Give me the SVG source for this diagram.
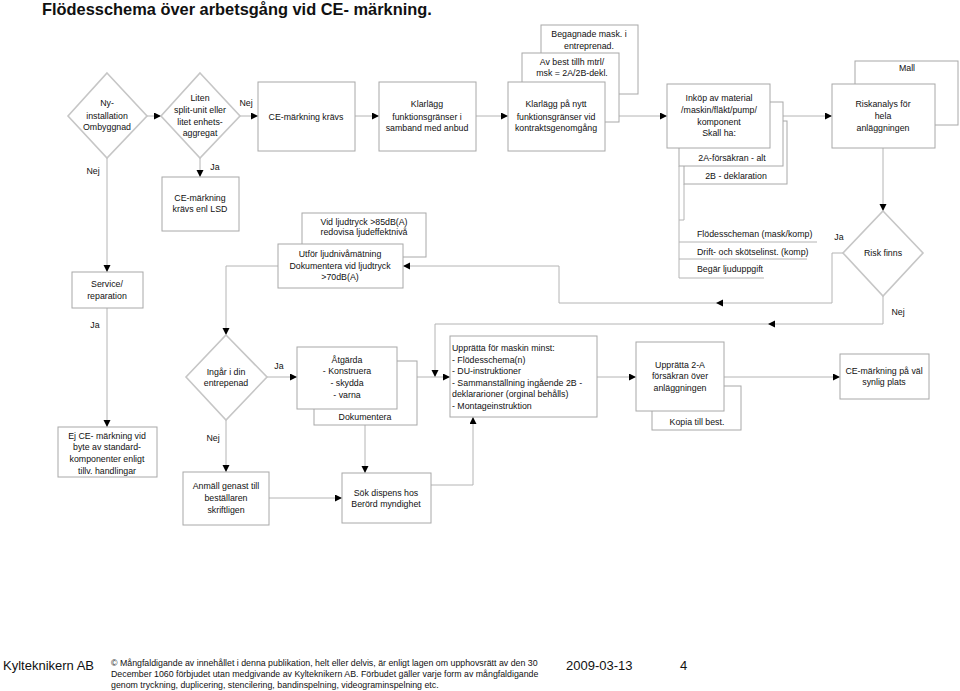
<svg xmlns="http://www.w3.org/2000/svg" width="960" height="691" viewBox="0 0 960 691">
<defs>
<marker id="ah" markerUnits="userSpaceOnUse" markerWidth="8" markerHeight="8" refX="7" refY="3.5" orient="auto">
<path d="M0,0 L7,3.5 L0,7 z" fill="#000"/>
</marker>
<style>
text{font-family:"Liberation Sans",Arial,sans-serif;font-size:8.8px;fill:#111;}
.c{text-anchor:middle;}
.b{fill:#fff;stroke:#a8a8a8;stroke-width:1;}
.d{fill:#fff;stroke:#c6c6c6;stroke-width:1.6;}
.ln{fill:none;stroke:#b4b4b4;stroke-width:1;}
.cn path{fill:none;stroke:#b4b4b4;stroke-width:1;}
.ar{marker-end:url(#ah);}
.t{font-size:16.4px;font-weight:bold;}
.f{font-size:8.8px;}
.big{font-size:13px;}
</style>
</defs>
<rect width="960" height="691" fill="#fff"/>
<text class="t" x="42" y="15">Flödesschema över arbetsgång vid CE- märkning.</text>

<g class="cn" id="connectors">
<path class="ar" d="M147,116 H161"/>
<path class="ar" d="M240,116 H258"/>
<path class="ar" d="M355,116 H379"/>
<path class="ar" d="M476,116 H508"/>
<path class="ar" d="M619,116 H667"/>
<path class="ar" d="M783,116 H832"/>
<path class="ar" d="M883,148 V211"/>
<path class="ar" d="M843,253 H832 V303 H716"/>
<path class="ar" d="M716,303 H559 V266 H403"/>
<path class="ar" d="M883,296 V324 H768"/>
<path class="ar" d="M768,324 H435 V377"/>
<path class="ar" d="M417,377 H450"/>
<path class="ar" d="M597,377 H636"/>
<path class="ar" d="M724,377 H840"/>
<path class="ar" d="M278,266 H226 V335"/>
<path class="ar" d="M267,377 H297"/>
<path class="ar" d="M226,420 V472"/>
<path class="ar" d="M269,498 H342"/>
<path class="ar" d="M365,425 V473"/>
<path class="ar" d="M431,485 H473 V417"/>
<path class="ar" d="M107,158 V272"/>
<path class="ar" d="M107,308 V427"/>
<path class="ar" d="M200,158 V177"/>
</g>

<g id="labels">
<text class="c" x="246" y="106">Nej</text>
<text class="c" x="93" y="174">Nej</text>
<text class="c" x="215" y="170">Ja</text>
<text class="c" x="95" y="328">Ja</text>
<text class="c" x="279" y="369">Ja</text>
<text class="c" x="213" y="441">Nej</text>
<text class="c" x="839" y="240">Ja</text>
<text class="c" x="898" y="315">Nej</text>
</g>

<g id="ny-installation">
<polygon class="d" points="107,73 147,116 107,158 68,116"/>
<text class="c" x="107" y="106">Ny-</text>
<text class="c" x="107" y="119">installation</text>
<text class="c" x="107" y="130">Ombyggnad</text>
</g>

<g id="liten">
<polygon class="d" points="200,73 240,116 200,158 161,116"/>
<text class="c" x="200" y="101">Liten</text>
<text class="c" x="200" y="113">split-unit eller</text>
<text class="c" x="200" y="125">litet enhets-</text>
<text class="c" x="200" y="136">aggregat</text>
</g>

<g id="ce-kravs">
<rect class="b" x="258" y="82" width="97" height="69"/>
<text class="c" x="306" y="120">CE-märkning krävs</text>
</g>

<g id="klarlagg">
<rect class="b" x="379" y="82" width="97" height="69"/>
<text class="c" x="427" y="107">Klarlägg</text>
<text class="c" x="427" y="120">funktionsgränser i</text>
<text class="c" x="427" y="131">samband med anbud</text>
</g>

<g id="klarlagg-nytt">
<rect class="b" x="541" y="25" width="97" height="69"/>
<text class="c" x="589" y="37">Begagnade mask. i</text>
<text class="c" x="589" y="49">entreprenad.</text>
<rect class="b" x="522" y="53" width="97" height="69"/>
<text class="c" x="572" y="65">Av best tillh mtrl/</text>
<text class="c" x="572" y="76">msk = 2A/2B-dekl.</text>
<rect class="b" x="508" y="82" width="97" height="69"/>
<text class="c" x="556" y="107">Klarlägg på nytt</text>
<text class="c" x="556" y="120">funktionsgränser vid</text>
<text class="c" x="556" y="131">kontraktsgenomgång</text>
</g>

<g id="inkop">
<path class="ln" d="M684,184 V220 H679"/>
<path class="ln" d="M679,166 V278 H764 M679,242 H817 M679,259 H807"/>
<text x="697" y="237">Flödesscheman (mask/komp)</text>
<text x="697" y="255">Drift- och skötselinst. (komp)</text>
<text x="697" y="272">Begär ljuduppgift</text>
<rect class="b" x="684" y="121" width="103" height="63"/>
<text class="c" x="736" y="179">2B - deklaration</text>
<rect class="b" x="679" y="102" width="104" height="64"/>
<text class="c" x="732" y="161">2A-försäkran - alt</text>
<rect class="b" x="667" y="84" width="103" height="64"/>
<text class="c" x="719" y="101">Inköp av material</text>
<text class="c" x="719" y="113">/maskin/fläkt/pump/</text>
<text class="c" x="719" y="125">komponent</text>
<text class="c" x="719" y="136">Skall ha:</text>
</g>

<g id="riskanalys">
<rect class="b" x="855" y="61" width="103" height="64"/>
<text class="c" x="907" y="71">Mall</text>
<rect class="b" x="832" y="84" width="103" height="64"/>
<text class="c" x="883" y="107">Riskanalys för</text>
<text class="c" x="883" y="119">hela</text>
<text class="c" x="883" y="131">anläggningen</text>
</g>

<g id="risk-finns">
<polygon class="d" points="883,211 923,253 883,296 843,253"/>
<text class="c" x="883" y="256">Risk finns</text>
</g>

<g id="ce-lsd">
<rect class="b" x="162" y="177" width="77" height="54"/>
<text class="c" x="200" y="201">CE-märkning</text>
<text class="c" x="200" y="212">krävs enl LSD</text>
</g>

<g id="utfor">
<rect class="b" x="302" y="213" width="124" height="44"/>
<text class="c" x="364" y="225">Vid ljudtryck &gt;85dB(A)</text>
<text class="c" x="364" y="235">redovisa ljudeffektnivå</text>
<rect class="b" x="278" y="244" width="125" height="44"/>
<text class="c" x="340" y="257">Utför ljudnivåmätning</text>
<text class="c" x="340" y="269">Dokumentera vid ljudtryck</text>
<text class="c" x="340" y="280">&gt;70dB(A)</text>
</g>

<g id="service">
<rect class="b" x="72" y="272" width="71" height="36"/>
<text class="c" x="107" y="287">Service/</text>
<text class="c" x="107" y="299">reparation</text>
</g>

<g id="ingar">
<polygon class="d" points="226,335 267,377 226,420 186,377"/>
<text class="c" x="226" y="375">Ingår i din</text>
<text class="c" x="226" y="386">entrepenad</text>
</g>

<g id="ej-ce">
<rect class="b" x="58" y="427" width="99" height="50"/>
<text class="c" x="107" y="439">Ej CE- märkning vid</text>
<text class="c" x="107" y="450">byte av standard-</text>
<text class="c" x="107" y="462">komponenter enligt</text>
<text class="c" x="107" y="474">tillv. handlingar</text>
</g>

<g id="atgarda">
<rect class="b" x="314" y="361" width="103" height="64"/>
<text class="c" x="365" y="420">Dokumentera</text>
<rect class="b" x="297" y="347" width="100" height="62"/>
<text class="c" x="347" y="363">Åtgärda</text>
<text class="c" x="347" y="374">- Konstruera</text>
<text class="c" x="347" y="386">- skydda</text>
<text class="c" x="347" y="398">- varna</text>
</g>

<g id="anmall">
<rect class="b" x="183" y="472" width="86" height="53"/>
<text class="c" x="226" y="489">Anmäll genast till</text>
<text class="c" x="226" y="501">beställaren</text>
<text class="c" x="226" y="513">skriftligen</text>
</g>

<g id="sok-dispens">
<rect class="b" x="342" y="473" width="89" height="50"/>
<text class="c" x="386" y="496">Sök dispens hos</text>
<text class="c" x="386" y="507">Berörd myndighet</text>
</g>

<g id="uppratta-maskin">
<rect class="b" x="450" y="336" width="147" height="81"/>
<text x="452" y="351">Upprätta för maskin minst:</text>
<text x="452" y="363">- Flödesschema(n)</text>
<text x="452" y="374">- DU-instruktioner</text>
<text x="452" y="386">- Sammanställning ingående 2B -</text>
<text x="452" y="397">deklararioner (orginal behålls)</text>
<text x="452" y="409">- Montageinstruktion</text>
</g>

<g id="uppratta-2a">
<rect class="b" x="652" y="386" width="89" height="44"/>
<text class="c" x="697" y="425">Kopia till best.</text>
<rect class="b" x="636" y="342" width="88" height="69"/>
<text class="c" x="680" y="368">Upprätta 2-A</text>
<text class="c" x="680" y="379">försäkran över</text>
<text class="c" x="680" y="391">anläggningen</text>
</g>

<g id="ce-synlig">
<rect class="b" x="840" y="354" width="89" height="45"/>
<text class="c" x="884" y="374">CE-märkning på väl</text>
<text class="c" x="884" y="385">synlig plats</text>
</g>

<g id="footer">
<text x="3" y="670" class="big">Kylteknikern AB</text>
<text x="111" y="666" class="f">© Mångfaldigande av innehållet i denna publikation, helt eller delvis, är enligt lagen om upphovsrätt av den 30</text>
<text x="111" y="677" class="f">December 1060 förbjudet utan medgivande av Kylteknikern AB. Förbudet gäller varje form av mångfaldigande</text>
<text x="111" y="688" class="f">genom tryckning, duplicering, stencilering, bandinspelning, videograminspelning etc.</text>
<text x="566" y="670" class="big">2009-03-13</text>
<text x="680" y="670" class="big">4</text>
</g>
</svg>
